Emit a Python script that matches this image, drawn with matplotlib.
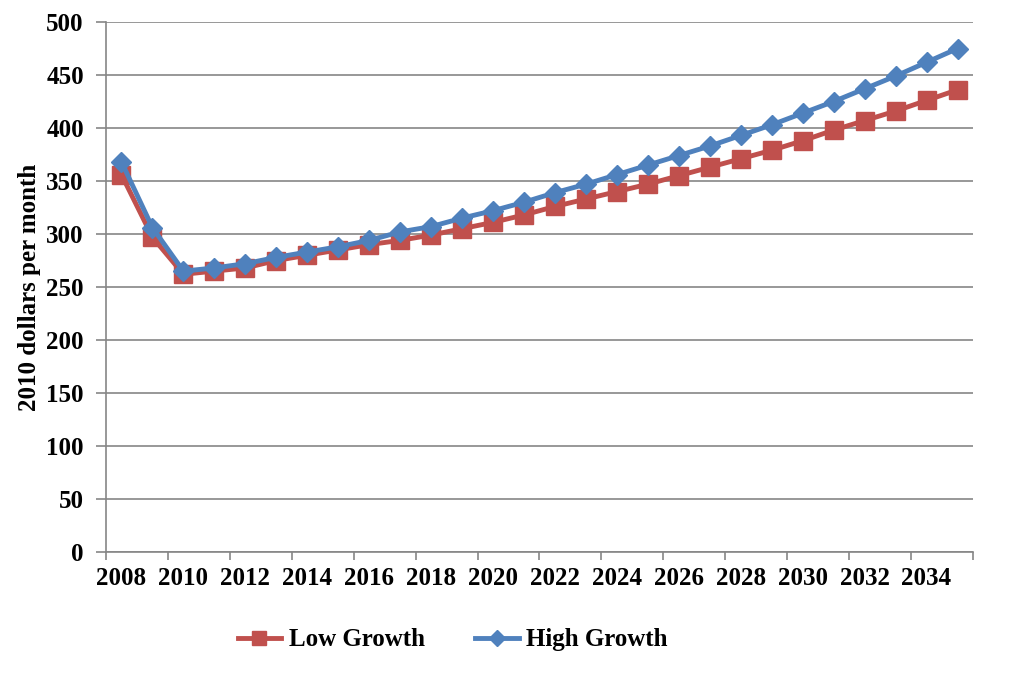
import numpy as np
import matplotlib.pyplot as plt

years = list(range(2008, 2036))
low_growth = [356, 297, 262, 265, 268, 275, 280, 285, 290, 294, 299, 305, 311, 318,
              326, 333, 340, 347, 355, 363, 371, 379, 388, 398, 407, 416, 426, 436]
high_growth = [368, 306, 265, 268, 272, 278, 283, 288, 294, 302, 307, 315, 322, 330,
               339, 347, 356, 365, 374, 383, 393, 403, 414, 425, 437, 449, 462, 475]

plt.rcParams['font.family'] = ['Liberation Serif', 'DejaVu Serif']
plt.rcParams['font.weight'] = 'bold'

grey = '#868686'
red = '#C0504D'
blue = '#4F81BD'

fig = plt.figure(figsize=(10.24, 6.77), dpi=100)
ax = fig.add_axes([0.1035, 0.1846, 0.8467, 0.7829])

x = np.arange(len(years))
ax.plot(x, low_growth, color=red, lw=3.5, marker='s', ms=12.5,
        mec=red, mfc=red, label='Low Growth', zorder=3)
ax.plot(x, high_growth, color=blue, lw=3.5, marker='D', ms=10.5,
        mec=blue, mfc=blue, label='High Growth', zorder=4)

ax.set_xlim(-0.5, len(years) - 0.5)
ax.set_ylim(0, 500)
ax.set_yticks(range(0, 501, 50))
ax.yaxis.grid(True, color=grey, lw=1.2)
ax.set_axisbelow(True)

# tick marks between categories, labels on every other year
ax.set_xticks(np.arange(-0.5, len(years), 2))
ax.set_xticklabels([])
ax.set_xticks(x[::2], [str(y) for y in years[::2]], minor=True)
ax.tick_params(axis='x', which='major', length=6, color=grey, width=1.2)
ax.tick_params(axis='x', which='minor', length=0, pad=11, labelsize=18)
ax.tick_params(axis='y', length=7, color=grey, width=1.2, pad=9, labelsize=18)

for s in ['top', 'right']:
    ax.spines[s].set_visible(False)
for s in ['left', 'bottom']:
    ax.spines[s].set_color(grey)
    ax.spines[s].set_linewidth(1.2)

ax.set_ylabel('2010 dollars per month', fontsize=18, fontweight='bold', labelpad=4)

fig.legend(loc='center', bbox_to_anchor=(0.442, 0.055), ncol=2, frameon=False,
           handlelength=1.75, handletextpad=0.3, columnspacing=2.0, markerscale=0.8,
           prop={'weight': 'bold', 'size': 18})

fig.savefig('out.png', dpi=100)
